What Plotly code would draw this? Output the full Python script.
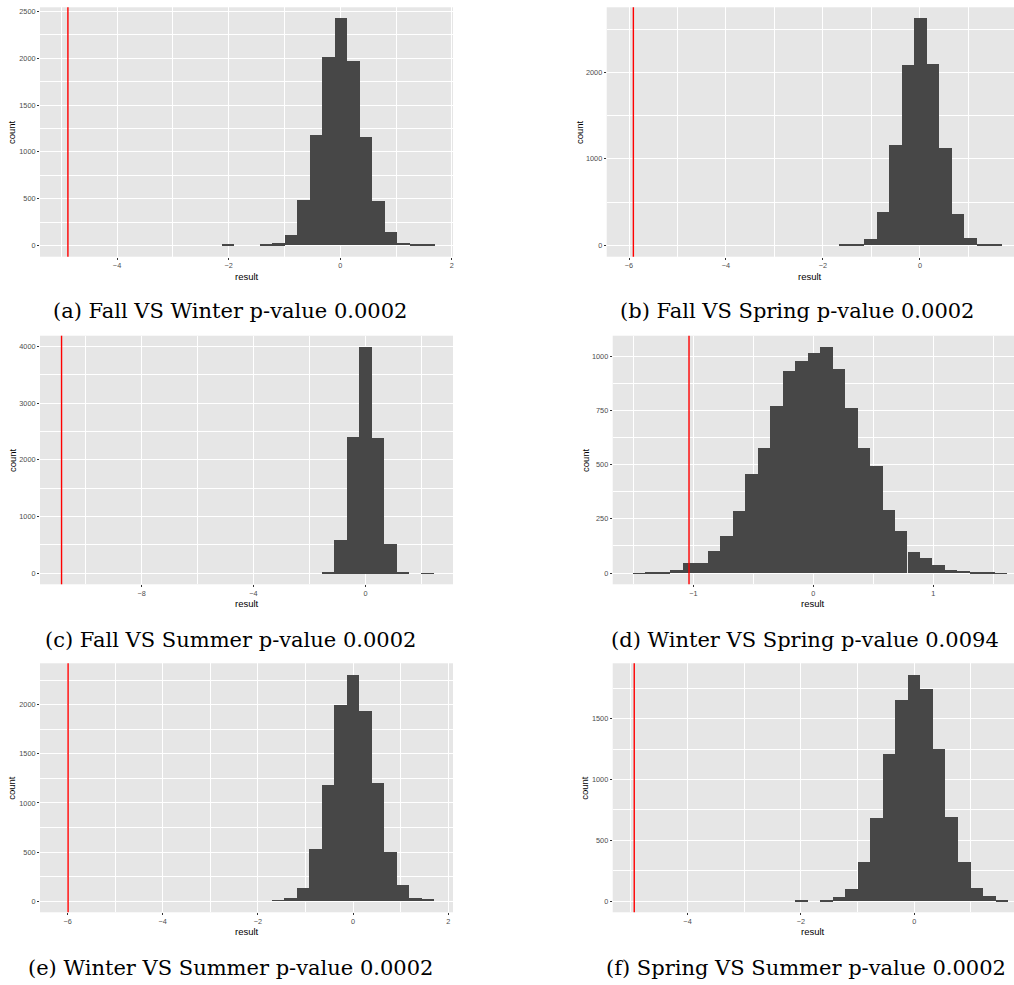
import plotly.graph_objects as go
from plotly.subplots import make_subplots

W, H = 1014, 985

# ---------------- data ----------------
captions = [
    "(a) Fall VS Winter p-value 0.0002",
    "(b) Fall VS Spring p-value 0.0002",
    "(c) Fall VS Summer p-value 0.0002",
    "(d) Winter VS Spring p-value 0.0094",
    "(e) Winter VS Summer p-value 0.0002",
    "(f) Spring VS Summer p-value 0.0002",
]

a_centers = [-2.008, -1.335, -1.111, -0.887, -0.663, -0.438, -0.214, 0.010,
             0.234, 0.458, 0.683, 0.907, 1.131, 1.355, 1.579]
a_counts = [1, 2, 18, 110, 481, 1177, 2015, 2425, 1972, 1159, 471, 139, 25, 5, 2]
a_width = 0.2242
a_obs = -4.88

b_centers = [-1.541, -1.284, -1.026, -0.768, -0.511, -0.253, 0.005, 0.263,
             0.520, 0.778, 1.036, 1.293, 1.551]
b_counts = [2, 15, 73, 381, 1152, 2081, 2620, 2092, 1117, 362, 85, 15, 2]
b_width = 0.2577
b_obs = -5.91

c_centers = [-1.341, -0.895, -0.449, -0.003, 0.443, 0.889, 1.335, 2.227]
c_counts = [35, 599, 2408, 3988, 2391, 523, 29, 1]
c_width = 0.446
c_obs = -10.86

d_centers = [-1.4536, -1.3496, -1.2456, -1.1416, -1.0377, -0.9337, -0.8297,
             -0.7257, -0.6217, -0.5178, -0.4138, -0.3098, -0.2058, -0.1018,
             0.0021, 0.1061, 0.2101, 0.3141, 0.4181, 0.5220, 0.6260, 0.7300,
             0.8340, 0.9380, 1.0419, 1.1459, 1.2499, 1.3539, 1.4579, 1.5618]
d_counts = [1, 4, 8, 15, 47, 49, 101, 173, 288, 460, 578, 773, 932, 978, 1017,
            1043, 941, 762, 580, 497, 293, 197, 100, 72, 40, 17, 11, 5, 2, 1]
d_width = 0.10398
d_obs = -1.036

e_centers = [-1.578, -1.315, -1.052, -0.790, -0.527, -0.264, -0.002, 0.261,
             0.524, 0.786, 1.049, 1.312, 1.575]
e_counts = [2, 27, 132, 529, 1176, 1997, 2302, 1932, 1203, 495, 159, 34, 12]
e_width = 0.2627
e_obs = -5.99

f_centers = [-1.998, -1.556, -1.335, -1.113, -0.892, -0.671, -0.450, -0.229,
             -0.007, 0.214, 0.435, 0.656, 0.877, 1.099, 1.320, 1.541]
f_counts = [1, 5, 33, 99, 320, 682, 1204, 1648, 1859, 1741, 1248, 690, 323,
            107, 38, 5]
f_width = 0.2212
f_obs = -4.94

panels = [
    (a_centers, a_counts, a_width, a_obs),
    (b_centers, b_counts, b_width, b_obs),
    (c_centers, c_counts, c_width, c_obs),
    (d_centers, d_counts, d_width, d_obs),
    (e_centers, e_counts, e_width, e_obs),
    (f_centers, f_counts, f_width, f_obs),
]

# ---------------- layout (pixels) ----------------
boxes = [
    (40, 453, 7.3, 256.7),
    (606.7, 1014, 7.3, 256.7),
    (40, 453, 335.7, 584.3),
    (612.7, 1014, 335.7, 584.3),
    (40, 453, 663.3, 912.3),
    (612.7, 1014, 663.3, 912.3),
]
xranges = [(-5.38, 2.02), (-6.46, 1.94), (-11.63, 3.13), (-1.672, 1.672),
           (-6.58, 2.10), (-5.32, 1.76)]
yranges = [(-121, 2546), (-131, 2751), (-194, 4188), (-52, 1094),
           (-112, 2420), (-90, 1954)]
xtick = [(2, -4), (2, -6), (4, -8), (1, -1), (2, -6), (2, -4)]
ytick = [500, 1000, 1000, 250, 500, 500]
count_x = [12, 580, 12, 585, 12, 585]
result_y = [276, 276, 603.5, 603.5, 931, 931]
cap_pos = [(229.5, 311), (797, 311), (230, 640), (805, 640), (230, 968), (806, 968)]


def px(x):
    return x / W


def py(y):
    return 1 - y / H


fig = make_subplots(rows=3, cols=2)

BG = "#E6E6E6"
BAR = "#474747"
tickfont = dict(family="Liberation Sans, Arial, sans-serif", size=7.3, color="#4D4D4D")

for i, (centers, counts, width, obs) in enumerate(panels):
    r, c = i // 2 + 1, i % 2 + 1
    fig.add_trace(
        go.Bar(x=centers, y=counts, width=width,
               marker=dict(color=BAR, line=dict(width=0)),
               showlegend=False),
        row=r, col=c)
    fig.add_vline(x=obs, line=dict(color="#FF0000", width=1.4), row=r, col=c)

    x0, x1, y0, y1 = boxes[i]
    dx, t0 = xtick[i]
    ax = "xaxis" if i == 0 else f"xaxis{i+1}"
    ay = "yaxis" if i == 0 else f"yaxis{i+1}"
    fig.layout[ax].update(
        domain=[px(x0), px(x1)], range=list(xranges[i]),
        tick0=t0, dtick=dx, ticks="outside", ticklen=2, tickwidth=0.8,
        tickcolor="#333333", tickfont=tickfont, showgrid=True,
        gridcolor="white", gridwidth=1.1, zeroline=False, showline=False,
        minor=dict(dtick=dx / 2, tick0=t0, showgrid=True, gridcolor="white",
                   gridwidth=0.5, ticklen=0),
        fixedrange=True)
    fig.layout[ay].update(
        domain=[py(y1), py(y0)], range=list(yranges[i]),
        tick0=0, dtick=ytick[i], ticks="outside", ticklen=2, tickwidth=0.8,
        tickcolor="#333333", tickfont=tickfont, showgrid=True,
        gridcolor="white", gridwidth=1.1, zeroline=False, showline=False,
        minor=dict(dtick=ytick[i] / 2, tick0=0, showgrid=True,
                   gridcolor="white", gridwidth=0.5, ticklen=0),
        fixedrange=True)

    fig.add_annotation(text="count", x=px(count_x[i]), y=py((y0 + y1) / 2),
                       xref="paper", yref="paper", showarrow=False,
                       textangle=-90, xanchor="center", yanchor="middle",
                       font=dict(family="Liberation Sans, Arial, sans-serif",
                                 size=9.5, color="black"))
    fig.add_annotation(text="result", x=px((x0 + x1) / 2), y=py(result_y[i]),
                       xref="paper", yref="paper", showarrow=False,
                       xanchor="center", yanchor="middle",
                       font=dict(family="Liberation Sans, Arial, sans-serif",
                                 size=9.5, color="black"))
    cx, cy = cap_pos[i]
    fig.add_annotation(text=captions[i], x=px(cx), y=py(cy),
                       xref="paper", yref="paper", showarrow=False,
                       xanchor="center", yanchor="middle",
                       font=dict(family="DejaVu Serif, serif",
                                 size=21, color="black"))

fig.update_layout(
    width=W, height=H, margin=dict(l=0, r=0, t=0, b=0),
    paper_bgcolor="white", plot_bgcolor=BG, bargap=0,
    showlegend=False,
)

fig.write_html("out.html", config={"displayModeBar": False})
